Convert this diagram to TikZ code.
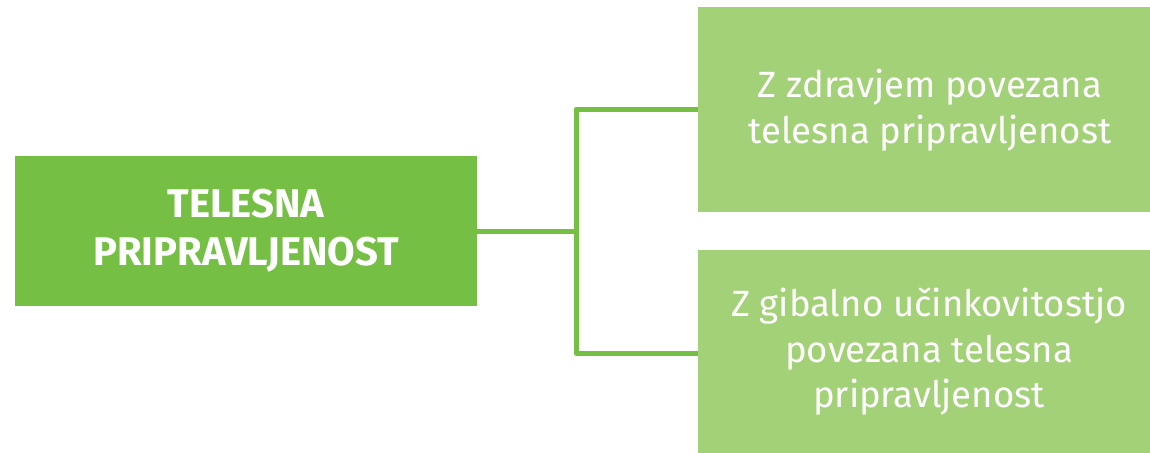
\documentclass[tikz,border=0pt]{standalone}
\usepackage{fontspec}
\setmainfont{Fira Sans}
\begin{document}
\begin{tikzpicture}[x=1pt,y=-1pt,
  darkbox/.style={fill=dgreen,draw=none,inner sep=0pt,text=white,align=center,font=\bfseries\fontsize{40}{48}\selectfont},
  lightbox/.style={fill=lgreen,draw=none,inner sep=0pt,text=white,align=center,font=\fontsize{36.5}{45.5}\selectfont},
  conn/.style={draw=dgreen,line width=5pt,line join=round}]
\definecolor{dgreen}{HTML}{76BF45}
\definecolor{lgreen}{HTML}{A3D178}
\useasboundingbox (0,0) rectangle (1150,452);
\fill[white] (0,0) rectangle (1150,452);
\node[darkbox,minimum width=462pt,minimum height=150pt] (main) at (246,231) {TELESNA\\PRIPRAVLJENOST};
\node[lightbox,minimum width=460pt,minimum height=205pt,anchor=north west] (top) at (698,7) {};
\node[lightbox,minimum width=460pt,minimum height=210pt,anchor=north west] (bot) at (698,250) {};
\node[lightbox,fill=none] (toptext) at (930,110) {Z zdravjem povezana\\telesna pripravljenost};
\node[lightbox,fill=none] (bottext) at (929,352) {Z gibalno učinkovitostjo\\povezana telesna\\pripravljenost};
\coordinate (j) at (576,231);
\draw[conn] (main.east) -- (j);
\draw[conn] (top.west |- 0,109) -| (576,353) -- (bot.west |- 0,353);
\end{tikzpicture}
\end{document}
